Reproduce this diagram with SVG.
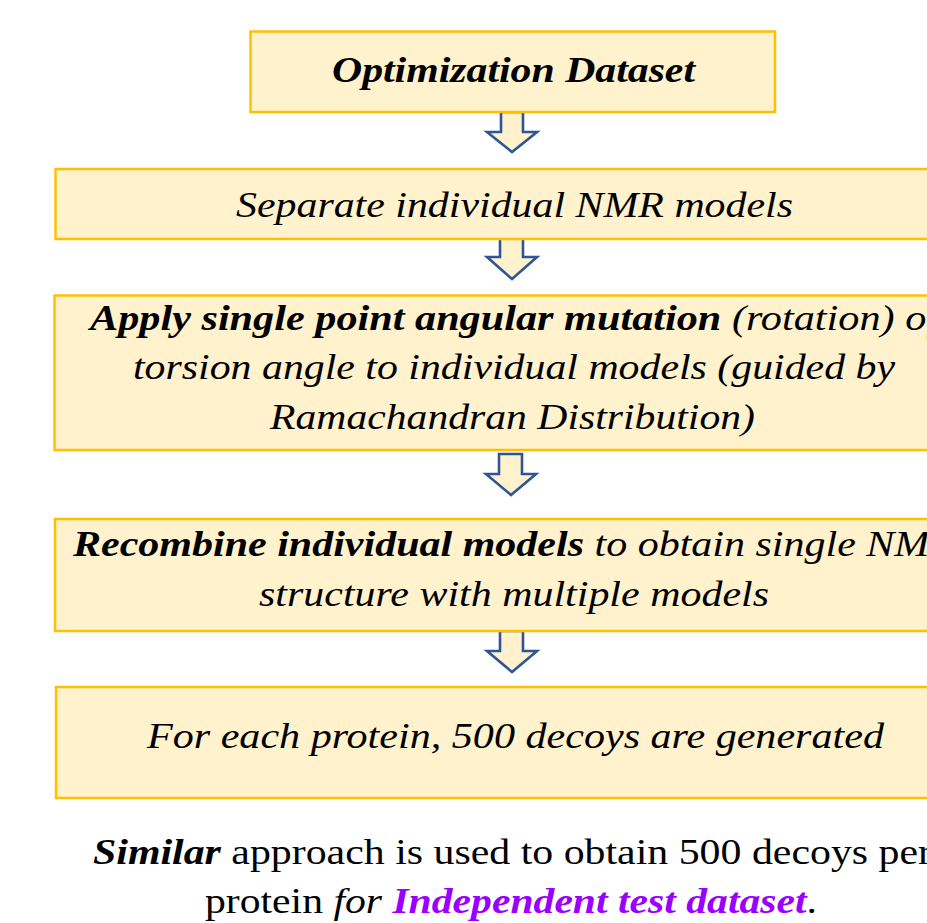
<svg xmlns="http://www.w3.org/2000/svg" width="927" height="923" viewBox="0 0 927 923">
<style>
.box{fill:#FFF2CC;stroke:#FFC000;stroke-width:2.5}
.arr{fill:#FFF2CC;stroke:#2F5597;stroke-width:2.6;stroke-linejoin:miter}
.t{font-family:'Liberation Serif','Times New Roman',Times,serif;font-size:36px;fill:#000}
.i{font-style:italic}
.b{font-weight:bold}
.p{fill:#9A00FF}
</style>
<rect width="927" height="923" fill="#FFFFFF"/>
<g id="connectors">
<polygon class="arr" points="501,112 523,112 523,132 537,132 512,152 487,132 501,132"/>
<polygon class="arr" points="500,238 523,238 523,257 537,257 512,279 487,257 500,257"/>
<polygon class="arr" points="499,454 522,454 522,474 536,474 511,495 486,474 499,474"/>
<polygon class="arr" points="500,631 523,631 523,651 537,651 512,672 487,651 500,651"/>
</g>
<g id="node1">
<rect class="box" x="250.5" y="31.5" width="524.5" height="80.5"/>
<text class="t i b" x="332" y="82" font-size="38" textLength="363" lengthAdjust="spacingAndGlyphs">Optimization Dataset</text>
</g>
<g id="node2">
<rect class="box" x="55.5" y="169" width="918" height="70"/>
<text class="t i" x="236" y="217" textLength="557" lengthAdjust="spacingAndGlyphs">Separate individual NMR models</text>
</g>
<g id="node3">
<rect class="box" x="54.5" y="295.5" width="919" height="154.5"/>
<text class="t" x="90" y="330" textLength="848" lengthAdjust="spacingAndGlyphs"><tspan class="i b">Apply single point angular mutation</tspan><tspan class="i"> (rotation) of</tspan></text>
<text class="t i" x="133" y="379" textLength="762" lengthAdjust="spacingAndGlyphs">torsion angle to individual models (guided by</text>
<text class="t i" x="270" y="429" textLength="485" lengthAdjust="spacingAndGlyphs">Ramachandran Distribution)</text>
</g>
<g id="node4">
<rect class="box" x="55" y="519" width="918" height="112"/>
<text class="t" x="73" y="556" textLength="882" lengthAdjust="spacingAndGlyphs"><tspan class="i b">Recombine individual models</tspan><tspan class="i"> to obtain single NMR</tspan></text>
<text class="t i" x="259" y="606" textLength="510" lengthAdjust="spacingAndGlyphs">structure with multiple models</text>
</g>
<g id="node5">
<rect class="box" x="56" y="687" width="917" height="111"/>
<text class="t i" x="147" y="748" textLength="737" lengthAdjust="spacingAndGlyphs">For each protein, 500 decoys are generated</text>
</g>
<g id="note">
<text class="t" x="93" y="864" textLength="839" lengthAdjust="spacingAndGlyphs"><tspan class="i b">Similar</tspan> approach is used to obtain 500 decoys per</text>
<text class="t" x="205" y="913" textLength="612" lengthAdjust="spacingAndGlyphs">protein <tspan class="i">for </tspan><tspan class="i b p">Independent test dataset</tspan>.</text>
</g>
</svg>
